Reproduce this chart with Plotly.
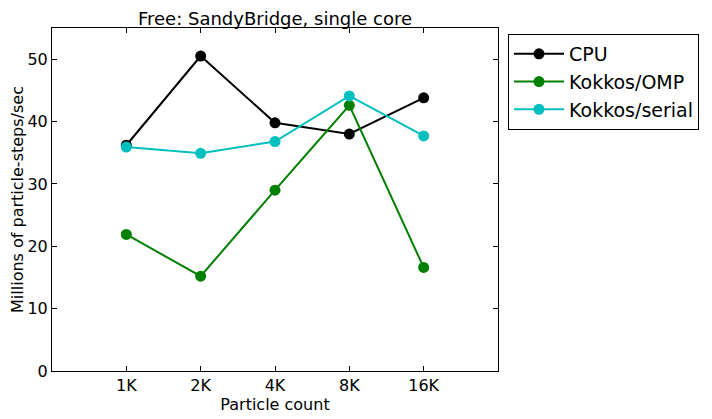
import plotly.graph_objects as go

categories = ["1K", "2K", "4K", "8K", "16K"]
cpu = [36.2, 50.5, 39.8, 38.0, 43.8]
kokkos_omp = [21.9, 15.2, 29.0, 42.6, 16.6]
kokkos_serial = [35.9, 34.9, 36.8, 44.1, 37.7]

series = [
    ("CPU", cpu, "#000000"),
    ("Kokkos/OMP", kokkos_omp, "#008000"),
    ("Kokkos/serial", kokkos_serial, "#00bfbf"),
]

xpos = list(range(1, len(categories) + 1))

fig = go.Figure()
for name, vals, color in series:
    fig.add_trace(go.Scatter(
        x=xpos, y=vals, name=name, mode="lines+markers",
        line=dict(color=color, width=2),
        marker=dict(color=color, size=11),
    ))

font = "DejaVu Sans"
W, H = 704, 411
L, R, T, B = 44, 214, 20, 48
pw = W - L - R
ph = H - T - B
fig.update_layout(
    width=W, height=H,
    margin=dict(l=L, r=R, t=T, b=B),
    paper_bgcolor="white", plot_bgcolor="white",
    font=dict(family=font, size=16, color="black"),
    title=dict(text="Free: SandyBridge, single core", x=0.5, xref="paper", xanchor="center",
               y=1 - 10.5 / H, yref="container", yanchor="middle",
               font=dict(size=18, family=font)),
    showlegend=True,
    legend=dict(x=1 + 10 / pw, y=1 - 6 / ph, xanchor="left", yanchor="top",
                bordercolor="black", borderwidth=1, bgcolor="white",
                font=dict(size=19, family=font), tracegroupgap=0,
                itemwidth=50),
)
fig.update_xaxes(
    range=[0, 6], tickmode="array", tickvals=xpos, ticktext=categories,
    showgrid=False, zeroline=False, showline=True, linecolor="black", linewidth=1,
    mirror="allticks", ticks="inside", ticklen=5, tickcolor="black",
    automargin=False,
    title=dict(text="Particle count", font=dict(size=16, family=font), standoff=2),
    tickfont=dict(size=16),
)
fig.update_yaxes(
    range=[0, 55], tickvals=[0, 10, 20, 30, 40, 50],
    showgrid=False, zeroline=False, showline=True, linecolor="black", linewidth=1,
    mirror="allticks", ticks="inside", ticklen=5, tickcolor="black",
    automargin=False,
    title=dict(text="Millions of particle-steps/sec", font=dict(size=16, family=font), standoff=4),
    tickfont=dict(size=16),
)

fig.write_html("out.html")
